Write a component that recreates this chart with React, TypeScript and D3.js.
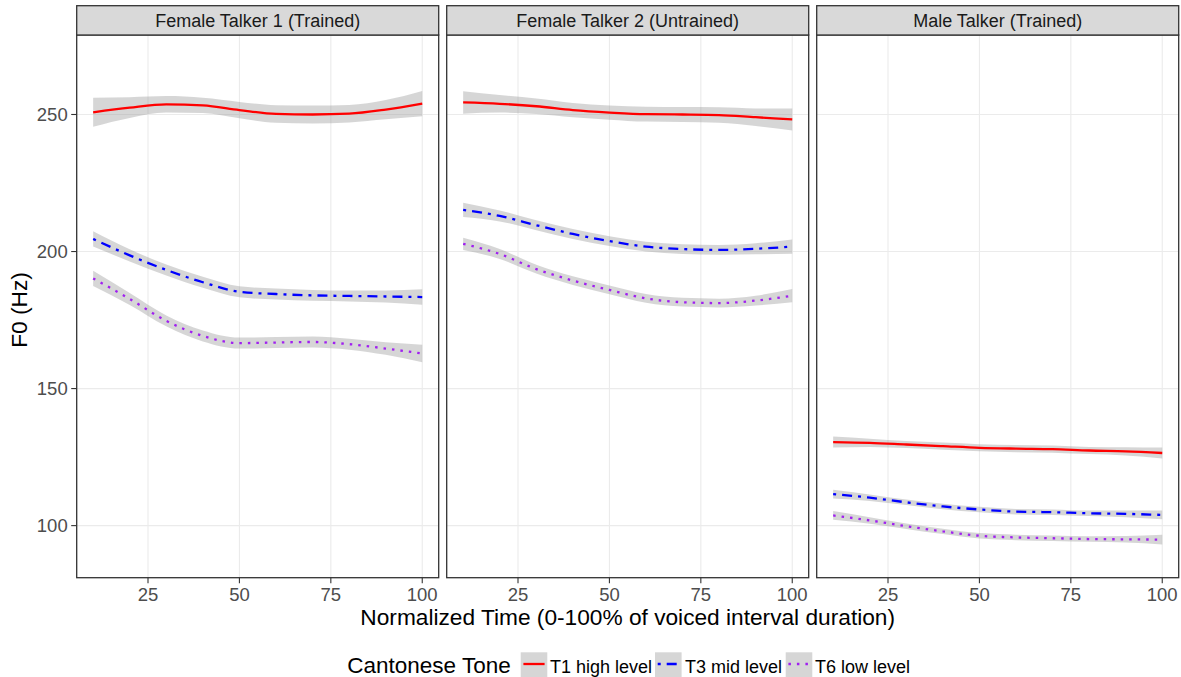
import React from "react";
import * as d3 from "d3";

const timePoints = [10, 20, 30, 40, 50, 60, 70, 80, 90, 100];
const facets = ["Female Talker 1 (Trained)", "Female Talker 2 (Untrained)", "Male Talker (Trained)"];
const tones = ["T1 high level", "T3 mid level", "T6 low level"];
const toneColors = ["#FF0000", "#0000FF", "#A020F0"];
const toneDash = [null, "3,6,10,6", "2.5,6"];
const xTicks = [25, 50, 75, 100];
const yTicks = [100, 150, 200, 250];

// Female Talker 1
const f1T1 = [250.8, 252.5, 253.7, 253.3, 251.6, 250.2, 250.0, 250.3, 251.8, 254.0];
const f1T1se = [5.3, 3.8, 3.0, 2.8, 3.0, 3.2, 3.3, 3.2, 3.5, 4.6];
const f1T3 = [204.6, 198.6, 193.3, 188.8, 185.3, 184.5, 184.0, 183.8, 183.6, 183.4];
const f1T3se = [2.8, 2.2, 2.0, 2.0, 2.0, 2.0, 2.0, 2.0, 2.2, 2.8];
const f1T6 = [190.2, 182.7, 174.7, 169.2, 166.6, 166.8, 167.0, 166.2, 164.6, 162.8];
const f1T6se = [2.8, 2.2, 2.0, 2.0, 2.0, 2.0, 2.0, 2.0, 2.3, 3.2];
// Female Talker 2
const f2T1 = [254.4, 253.9, 253.0, 251.6, 250.7, 250.1, 250.0, 249.8, 249.0, 248.2];
const f2T1se = [4.1, 3.2, 2.8, 2.6, 2.6, 2.7, 2.7, 2.8, 3.2, 4.0];
const f2T3 = [215.2, 213.0, 209.6, 206.4, 203.8, 201.8, 200.9, 200.6, 201.0, 201.8];
const f2T3se = [2.6, 2.0, 1.8, 1.8, 1.8, 1.8, 1.8, 1.8, 2.0, 2.6];
const f2T6 = [202.8, 199.1, 193.6, 189.4, 186.0, 182.9, 181.5, 181.2, 182.1, 183.9];
const f2T6se = [2.2, 1.8, 1.6, 1.6, 1.6, 1.6, 1.6, 1.6, 1.8, 2.4];
// Male Talker
const mT1 = [130.5, 130.2, 129.6, 129.0, 128.4, 128.1, 127.9, 127.4, 127.1, 126.5];
const mT1se = [2.0, 1.5, 1.3, 1.3, 1.3, 1.3, 1.3, 1.3, 1.5, 2.0];
const mT3 = [111.5, 110.2, 108.5, 107.0, 105.9, 105.1, 104.9, 104.5, 104.3, 103.9];
const mT3se = [1.6, 1.2, 1.0, 1.0, 1.0, 1.0, 1.0, 1.0, 1.2, 1.6];
const mT6 = [103.7, 101.9, 99.8, 97.9, 96.3, 95.7, 95.4, 95.1, 95.0, 94.9];
const mT6se = [1.6, 1.2, 1.0, 1.0, 1.0, 1.0, 1.0, 1.0, 1.2, 1.8];

const panelSeries = [
  [[f1T1, f1T1se], [f1T3, f1T3se], [f1T6, f1T6se]],
  [[f2T1, f2T1se], [f2T3, f2T3se], [f2T6, f2T6se]],
  [[mT1, mT1se], [mT3, mT3se], [mT6, mT6se]],
];

const W = 1181;
const H = 677;
const FONT = "'Liberation Sans', Arial, sans-serif";
const panelLefts = [76.7, 446.7, 816.7];
const panelW = 362;
const stripTop = 5.7;
const panelTop = 35;
const panelBottom = 577.7;

export default function App() {
  const y = d3.scaleLinear().domain([81, 279]).range([panelBottom, panelTop]);
  const legendItems = [
    { keyX: 520.7, textX: 550 },
    { keyX: 655, textX: 685 },
    { keyX: 785.7, textX: 815 },
  ];
  return (
    <div style={{ position: "absolute", left: 0, top: 0 }}>
      <svg width={W} height={H} style={{ display: "block", fontFamily: FONT }}>
        <rect x={0} y={0} width={W} height={H} fill="#ffffff" />
        {facets.map((name, pi) => {
          const x0 = panelLefts[pi];
          const x = d3.scaleLinear().domain([5.5, 104.5]).range([x0, x0 + panelW]);
          return (
            <g key={name}>
              <rect x={x0} y={panelTop} width={panelW} height={panelBottom - panelTop} fill="#ffffff" />
              {yTicks.map((t) => (
                <line key={"gy" + t} x1={x0} x2={x0 + panelW} y1={y(t)} y2={y(t)} stroke="#ebebeb" strokeWidth={1.1} />
              ))}
              {xTicks.map((t) => (
                <line key={"gx" + t} x1={x(t)} x2={x(t)} y1={panelTop} y2={panelBottom} stroke="#ebebeb" strokeWidth={1.1} />
              ))}
              {panelSeries[pi].map(([vals, se], si) => {
                const pts = timePoints.map((t, i) => ({ t, v: vals[i], s: se[i] }));
                const area = d3
                  .area<any>()
                  .x((d) => x(d.t))
                  .y0((d) => y(d.v - d.s))
                  .y1((d) => y(d.v + d.s))
                  .curve(d3.curveMonotoneX);
                return <path key={"r" + si} d={area(pts) || ""} fill="#999999" fillOpacity={0.4} />;
              })}
              {panelSeries[pi].map(([vals], si) => {
                const pts = timePoints.map((t, i) => ({ t, v: vals[i] }));
                const line = d3
                  .line<any>()
                  .x((d) => x(d.t))
                  .y((d) => y(d.v))
                  .curve(d3.curveMonotoneX);
                return (
                  <path
                    key={"l" + si}
                    d={line(pts) || ""}
                    fill="none"
                    stroke={toneColors[si]}
                    strokeWidth={2.3}
                    strokeDasharray={toneDash[si] || undefined}
                  />
                );
              })}
              <rect x={x0} y={panelTop} width={panelW} height={panelBottom - panelTop} fill="none" stroke="#333333" strokeWidth={1.3} />
              <rect x={x0} y={stripTop} width={panelW} height={panelTop - stripTop} fill="#d9d9d9" stroke="#333333" strokeWidth={1.3} />
              <text x={x0 + panelW / 2} y={(stripTop + panelTop) / 2} dy="0.35em" textAnchor="middle" fontSize={18} fill="#1a1a1a">
                {name}
              </text>
              {xTicks.map((t) => (
                <g key={"tx" + t}>
                  <line x1={x(t)} x2={x(t)} y1={panelBottom} y2={panelBottom + 5.5} stroke="#333333" strokeWidth={1.1} />
                  <text x={x(t)} y={600.5} textAnchor="middle" fontSize={18.5} fill="#4d4d4d">
                    {t}
                  </text>
                </g>
              ))}
              {pi === 0 &&
                yTicks.map((t) => (
                  <g key={"ty" + t}>
                    <line x1={x0 - 5.5} x2={x0} y1={y(t)} y2={y(t)} stroke="#333333" strokeWidth={1.1} />
                    <text x={x0 - 9} y={y(t)} dy="0.35em" textAnchor="end" fontSize={18.5} fill="#4d4d4d">
                      {t}
                    </text>
                  </g>
                ))}
            </g>
          );
        })}
        <text x={(panelLefts[0] + panelLefts[2] + panelW) / 2} y={625} textAnchor="middle" fontSize={22.7} fill="#000000">
          Normalized Time (0-100% of voiced interval duration)
        </text>
        <text transform={`translate(26.5,310) rotate(-90)`} textAnchor="middle" fontSize={22.7} fill="#000000">
          F0 (Hz)
        </text>
        <text x={347.3} y={673.3} fontSize={22.5} fill="#000000">
          Cantonese Tone
        </text>
        {tones.map((tn, i) => {
          const it = legendItems[i];
          return (
            <g key={tn}>
              <rect x={it.keyX} y={652.3} width={26.6} height={26.6} fill="#d6d6d6" />
              <line
                x1={it.keyX + 2.7}
                x2={it.keyX + 23.9}
                y1={664}
                y2={664}
                stroke={toneColors[i]}
                strokeWidth={2.3}
                strokeDasharray={toneDash[i] || undefined}
              />
              <text x={it.textX} y={672.5} fontSize={18} fill="#000000">
                {tn}
              </text>
            </g>
          );
        })}
      </svg>
    </div>
  );
}
